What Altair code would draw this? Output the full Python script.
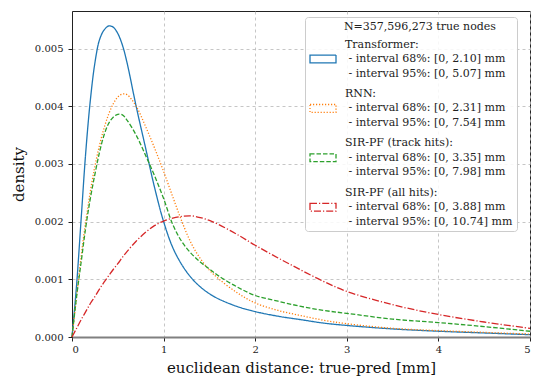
import altair as alt
import pandas as pd

# distance grid (mm) at which the densities were read
xs = [0, 0.05, 0.1, 0.15, 0.2, 0.25, 0.3, 0.35, 0.4, 0.45, 0.5, 0.55, 0.6, 0.7, 0.8, 0.9,
      1.0, 1.1, 1.2, 1.3, 1.4, 1.5, 1.6, 1.8, 2.0, 2.25, 2.5, 2.75, 3.0, 3.5, 4.0, 4.5, 5.0]

transformer = [0, 0.0009, 0.00205, 0.0032, 0.0041, 0.00475, 0.00515, 0.00532, 0.00539, 0.00537,
               0.00526, 0.00506, 0.00476, 0.0040, 0.0033, 0.0026, 0.0020, 0.00155, 0.00125, 0.00103,
               0.00087, 0.00075, 0.00066, 0.00053, 0.00044, 0.00036, 0.00030, 0.00024, 0.0002,
               0.00014, 0.0001, 0.00007, 0.00004]
rnn = [0, 0.0007, 0.0014, 0.002, 0.00252, 0.00296, 0.00332, 0.00362, 0.00386, 0.00404,
       0.00416, 0.00421, 0.0042, 0.004, 0.00366, 0.00328, 0.00287, 0.00243, 0.002, 0.00163,
       0.00136, 0.00116, 0.00101, 0.00077, 0.00059, 0.00046, 0.00037, 0.00029, 0.00023,
       0.00015, 0.00011, 0.00008, 0.00005]
sir_track = [0, 0.0007, 0.0013, 0.0019, 0.0024, 0.00282, 0.0032, 0.0035, 0.0037, 0.00381,
             0.00386, 0.00385, 0.00376, 0.0035, 0.00316, 0.0028, 0.0024, 0.00195, 0.00165, 0.00145,
             0.0013, 0.00118, 0.00106, 0.00087, 0.00072, 0.00062, 0.00053, 0.00046, 0.00041,
             0.00031, 0.00025, 0.00018, 0.0001]
sir_all = [0, 0.00015, 0.0003, 0.00044, 0.00058, 0.0007, 0.00083, 0.00095, 0.00106, 0.00117,
           0.00127, 0.00138, 0.00148, 0.00166, 0.00181, 0.00193, 0.00201, 0.00206, 0.00209, 0.0021,
           0.00207, 0.00202, 0.00195, 0.00178, 0.00159, 0.00137, 0.00116, 0.00096, 0.00079,
           0.00056, 0.00039, 0.00026, 0.00015]

series_names = ["Transformer", "RNN", "SIR-PF (track hits)", "SIR-PF (all hits)"]
int68 = ["2.10", "2.31", "3.35", "3.88"]
int95 = ["5.07", "7.54", "7.98", "10.74"]
colors = ["#1f77b4", "#ff7f0e", "#2ca02c", "#d62728"]
dashes = [[1, 0], [1.2, 1.8], [4.5, 2], [7, 2, 1.2, 2]]
x_ticks = [0, 1, 2, 3, 4, 5]
y_ticks = [0, 0.001, 0.002, 0.003, 0.004, 0.005]
legend_title = "N=357,596,273 true nodes"

ZW = "\u200b"   # zero-width char so leading non-breaking spaces survive trimming
NB = "\u00a0"
labels = [f"{n}:|{ZW}{NB}- interval 68%: [0, {a}] mm|{ZW}{NB}- interval 95%: [0, {b}] mm"
          for n, a, b in zip(series_names, int68, int95)]

rows = []
for lab, ys in zip(labels, [transformer, rnn, sir_track, sir_all]):
    for x, y in zip(xs, ys):
        rows.append({"x": x, "y": y, "series": lab})
df = pd.DataFrame(rows)

FONT = "DejaVu Serif"
LH = 14.5   # legend label line height; labels shifted up one line so the symbol sits on line 2

legend = alt.Legend(
    title=ZW + NB * 10 + legend_title,
    orient="none", legendX=233, legendY=6,
    padding=4, fillColor="rgba(255,255,255,0.85)", strokeColor="#cccccc", cornerRadius=3,
    titleFont=FONT, titleFontSize=11, titleFontWeight="normal", titleColor="#222222",
    titlePadding=13, titleLimit=400,
    labelFont=FONT, labelFontSize=11, labelColor="#222222", labelLimit=400, labelOffset=8,
    labelExpr="split(datum.label, '|')",
    rowPadding=8.4,
    symbolType="M-1,-0.3H1V0.3H-1Z", symbolSize=676, symbolStrokeWidth=1.3,
    symbolFillColor="rgba(0,0,0,0)",
)

chart = alt.Chart(df).mark_line(strokeWidth=1.3, interpolate="catmull-rom").encode(
    x=alt.X("x:Q", scale=alt.Scale(domain=[0, 5], nice=False),
            axis=alt.Axis(values=x_ticks, title="euclidean distance: true-pred [mm]",
                          domainColor="#808080", domainWidth=2, titlePadding=6,
                          labelPadding=3 + LH)),
    y=alt.Y("y:Q", scale=alt.Scale(domain=[0, 0.00565], nice=False),
            axis=alt.Axis(values=y_ticks, format=".3f", title="density",
                          domainColor="#222222", domainWidth=1, titlePadding=8, labelPadding=5,
                          labelOffset=LH)),
    color=alt.Color("series:N", scale=alt.Scale(domain=labels, range=colors), legend=legend),
    strokeDash=alt.StrokeDash("series:N", scale=alt.Scale(domain=labels, range=dashes), legend=legend),
).properties(
    width=458, height=326,
    autosize=alt.AutoSizeParams(type="none"),
    padding={"left": 72, "top": 11, "right": 9, "bottom": 45},
).configure(
    style={"guide-label": {"lineHeight": LH, "dy": -LH}}
).configure_view(
    stroke="#222222", strokeWidth=1
).configure_axis(
    labelFont=FONT, labelFontSize=10, labelColor="#222222",
    titleFont=FONT, titleFontSize=15, titleFontWeight="normal", titleColor="#111111",
    tickColor="#222222", tickSize=4, gridColor="#b8b8b8", gridDash=[3, 3], gridWidth=0.8,
)

chart.save("out.html", embed_options={"renderer": "svg", "actions": False})
